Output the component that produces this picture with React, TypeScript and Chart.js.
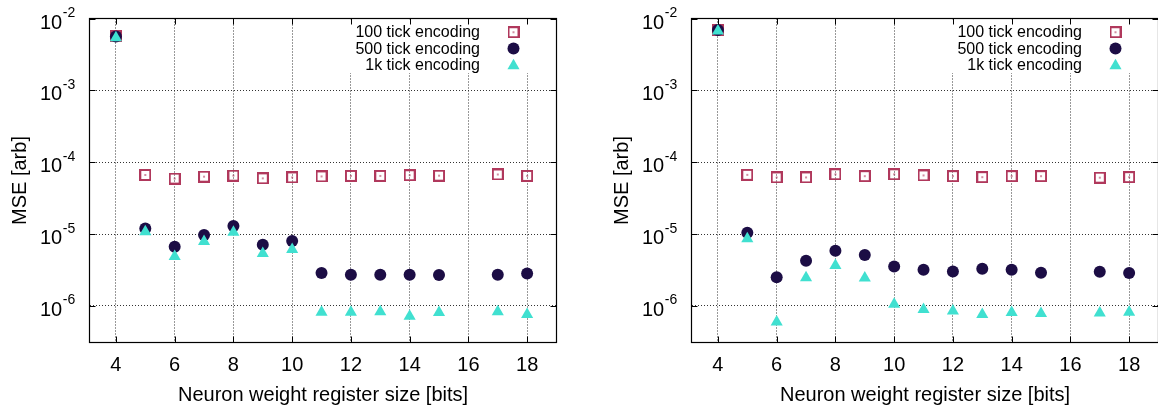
import React, { useEffect, useRef } from 'react';
import { Chart, registerables } from 'chart.js';

Chart.register(...registerables);

// ---------- data ----------
const registerSizes = [4, 5, 6, 7, 8, 9, 10, 11, 12, 13, 14, 15, 17, 18];
const xTickValues = [4, 6, 8, 10, 12, 14, 16, 18];
const yTickExponents = [-2, -3, -4, -5, -6];
const seriesLabels = ['100 tick encoding', '500 tick encoding', '1k tick encoding'];
const xAxisTitle = 'Neuron weight register size [bits]';
const yAxisTitle = 'MSE [arb]';

const leftMse100 = [5.7e-3, 6.65e-5, 5.92e-5, 6.3e-5, 6.5e-5, 5.97e-5, 6.15e-5, 6.35e-5, 6.45e-5, 6.45e-5, 6.6e-5, 6.5e-5, 6.75e-5, 6.45e-5];
const leftMse500 = [5.6e-3, 1.2e-5, 6.67e-6, 9.7e-6, 1.3e-5, 7.1e-6, 8.0e-6, 2.87e-6, 2.72e-6, 2.72e-6, 2.72e-6, 2.7e-6, 2.72e-6, 2.83e-6];
const leftMse1k = [5.4e-3, 1.08e-5, 4.87e-6, 7.87e-6, 1.06e-5, 5.35e-6, 6.08e-6, 8.15e-7, 8.15e-7, 8.3e-7, 7.2e-7, 8.1e-7, 8.3e-7, 7.6e-7];

const rightMse100 = [6.95e-3, 6.67e-5, 6.15e-5, 6.15e-5, 6.8e-5, 6.4e-5, 6.8e-5, 6.55e-5, 6.4e-5, 6.2e-5, 6.4e-5, 6.4e-5, 6.1e-5, 6.2e-5];
const rightMse500 = [6.9e-3, 1.04e-5, 2.5e-6, 4.27e-6, 5.86e-6, 5.1e-6, 3.55e-6, 3.19e-6, 3.02e-6, 3.3e-6, 3.19e-6, 2.9e-6, 2.99e-6, 2.88e-6];
const rightMse1k = [6.7e-3, 8.6e-6, 6.0e-7, 2.47e-6, 3.65e-6, 2.44e-6, 1.06e-6, 8.9e-7, 8.5e-7, 7.6e-7, 8.1e-7, 7.85e-7, 8.0e-7, 8.2e-7];

// ---------- styles ----------
const FONT = '"Liberation Sans", Arial, Helvetica, sans-serif';
const SQUARE_COLOR = '#b0385c';
const CIRCLE_COLOR = '#1c0d45';
const TRI_COLOR = '#40e0d0';
const CIRCLE_R = 6;
const TRI_R = 7;

function makeSquare(): HTMLCanvasElement {
  const c = document.createElement('canvas');
  c.width = 12;
  c.height = 12;
  const g = c.getContext('2d')!;
  g.strokeStyle = SQUARE_COLOR;
  g.lineWidth = 2;
  g.strokeRect(1, 1, 10, 10);
  g.fillStyle = SQUARE_COLOR;
  g.fillRect(5.25, 5.25, 1.5, 1.5);
  return c;
}

function drawTriangle(ctx: CanvasRenderingContext2D, x: number, y: number, r: number) {
  ctx.beginPath();
  ctx.moveTo(x, y - r);
  ctx.lineTo(x + r * Math.sin((2 * Math.PI) / 3), y + r / 2);
  ctx.lineTo(x - r * Math.sin((2 * Math.PI) / 3), y + r / 2);
  ctx.closePath();
  ctx.fill();
}

function makeDecoPlugin(squareImg: HTMLCanvasElement) {
  return {
    id: 'deco',
    afterDraw(chart: any) {
      const ctx: CanvasRenderingContext2D = chart.ctx;
      const { left, right, top, bottom } = chart.chartArea;
      const xs = chart.scales.x;
      const ys = chart.scales.y;
      ctx.save();

      // legend box (white, hides grid)
      ctx.fillStyle = '#fff';
      ctx.fillRect(left + 250, top + 1, right - left - 251, 53.5);

      // legend entries
      ctx.font = `16px ${FONT}`;
      ctx.textAlign = 'right';
      ctx.textBaseline = 'alphabetic';
      seriesLabels.forEach((lab, i) => {
        const cy = top + 13.7 + i * 16.3;
        ctx.fillStyle = '#000';
        ctx.fillText(lab, left + 390.5, cy + 5);
        const mx = left + 424;
        if (i === 0) {
          ctx.drawImage(squareImg, mx - 6, cy - 6);
        } else if (i === 1) {
          ctx.fillStyle = CIRCLE_COLOR;
          ctx.beginPath();
          ctx.arc(mx, cy, CIRCLE_R, 0, Math.PI * 2);
          ctx.fill();
        } else {
          ctx.fillStyle = TRI_COLOR;
          drawTriangle(ctx, mx, cy + 1, TRI_R);
        }
      });

      // frame
      ctx.strokeStyle = '#000';
      ctx.lineWidth = 1.2;
      ctx.strokeRect(left, top, right - left, bottom - top);

      // tick marks (inward, mirrored)
      ctx.lineWidth = 1;
      ctx.beginPath();
      xTickValues.forEach((v) => {
        const px = Math.round(xs.getPixelForValue(v)) + 0.5;
        ctx.moveTo(px, bottom);
        ctx.lineTo(px, bottom - 6);
        ctx.moveTo(px, top);
        ctx.lineTo(px, top + 6);
      });
      yTickExponents.forEach((e) => {
        const py = Math.round(ys.getPixelForValue(Math.pow(10, e))) + 0.5;
        ctx.moveTo(left, py);
        ctx.lineTo(left + 6, py);
        ctx.moveTo(right, py);
        ctx.lineTo(right - 6, py);
      });
      ctx.stroke();

      // x tick labels
      ctx.fillStyle = '#000';
      ctx.font = `20px ${FONT}`;
      ctx.textAlign = 'center';
      ctx.textBaseline = 'alphabetic';
      xTickValues.forEach((v) => {
        ctx.fillText(String(v), xs.getPixelForValue(v), bottom + 28);
      });

      // x title
      ctx.fillText(xAxisTitle, (left + right) / 2, bottom + 58.5);

      // y tick labels: 10 with superscript exponent
      yTickExponents.forEach((e) => {
        const py = ys.getPixelForValue(Math.pow(10, e));
        const x0 = left - 49.5;
        ctx.font = `20px ${FONT}`;
        ctx.textAlign = 'left';
        ctx.fillText('10', x0, py + 10);
        const w = ctx.measureText('10').width;
        ctx.font = `14px ${FONT}`;
        ctx.fillText(String(e), x0 + w + 0.5, py - 1.5);
      });

      // y title
      ctx.save();
      ctx.translate(left - 64, (top + bottom) / 2);
      ctx.rotate(-Math.PI / 2);
      ctx.font = `20px ${FONT}`;
      ctx.textAlign = 'center';
      ctx.textBaseline = 'alphabetic';
      ctx.fillText(yAxisTitle, 0, 0);
      ctx.restore();

      ctx.restore();
    },
  };
}

type PanelProps = { s100: number[]; s500: number[]; s1k: number[]; offsetLeft: number };

function Panel({ s100, s500, s1k, offsetLeft }: PanelProps) {
  const ref = useRef<HTMLCanvasElement>(null);
  useEffect(() => {
    const squareImg = makeSquare();
    const toPts = (arr: number[]) => registerSizes.map((x, i) => ({ x, y: arr[i] }));
    const chart = new Chart(ref.current!, {
      type: 'scatter',
      data: {
        datasets: [
          {
            label: seriesLabels[2],
            data: toPts(s1k),
            pointStyle: 'triangle',
            pointRadius: TRI_R,
            backgroundColor: TRI_COLOR,
            borderColor: TRI_COLOR,
            borderWidth: 0,
            order: 0,
          },
          {
            label: seriesLabels[1],
            data: toPts(s500),
            pointStyle: 'circle',
            pointRadius: CIRCLE_R,
            backgroundColor: CIRCLE_COLOR,
            borderColor: CIRCLE_COLOR,
            borderWidth: 0,
            order: 1,
          },
          {
            label: seriesLabels[0],
            data: toPts(s100),
            pointStyle: squareImg as any,
            pointRadius: 7,
            backgroundColor: SQUARE_COLOR,
            borderColor: SQUARE_COLOR,
            borderWidth: 0,
            order: 2,
          },
        ],
      },
      options: {
        responsive: false,
        animation: false,
        devicePixelRatio: 1,
        layout: { padding: { left: 89.5, right: 22.5, top: 18.5, bottom: 64.5 } },
        plugins: { legend: { display: false }, tooltip: { enabled: false } },
        scales: {
          x: {
            type: 'linear',
            min: 3.1,
            max: 19,
            afterBuildTicks: (ax: any) => {
              ax.ticks = xTickValues.map((v) => ({ value: v }));
            },
            ticks: { display: false },
            grid: { color: '#333', lineWidth: 1, drawTicks: false },
            border: { display: false, dash: [1, 2] },
          },
          y: {
            type: 'logarithmic',
            min: 3.1e-7,
            max: 1e-2,
            afterBuildTicks: (ax: any) => {
              ax.ticks = yTickExponents.map((e) => ({ value: Math.pow(10, e) }));
            },
            ticks: { display: false },
            grid: { color: '#333', lineWidth: 1, drawTicks: false },
            border: { display: false, dash: [1, 2] },
          },
        },
      },
      plugins: [makeDecoPlugin(squareImg)],
    } as any);
    return () => chart.destroy();
  }, []);
  return (
    <div style={{ position: 'absolute', left: offsetLeft, top: 0, width: 579, height: 407 }}>
      <canvas ref={ref} width={579} height={407} style={{ display: 'block', width: 579, height: 407 }} />
    </div>
  );
}

export default function App() {
  return (
    <div
      style={{
        position: 'fixed',
        left: 0,
        top: 0,
        width: 1158,
        height: 407,
        overflow: 'hidden',
        background: '#fff',
      }}
    >
      <Panel s100={leftMse100} s500={leftMse500} s1k={leftMse1k} offsetLeft={0} />
      <Panel s100={rightMse100} s500={rightMse500} s1k={rightMse1k} offsetLeft={602} />
    </div>
  );
}
